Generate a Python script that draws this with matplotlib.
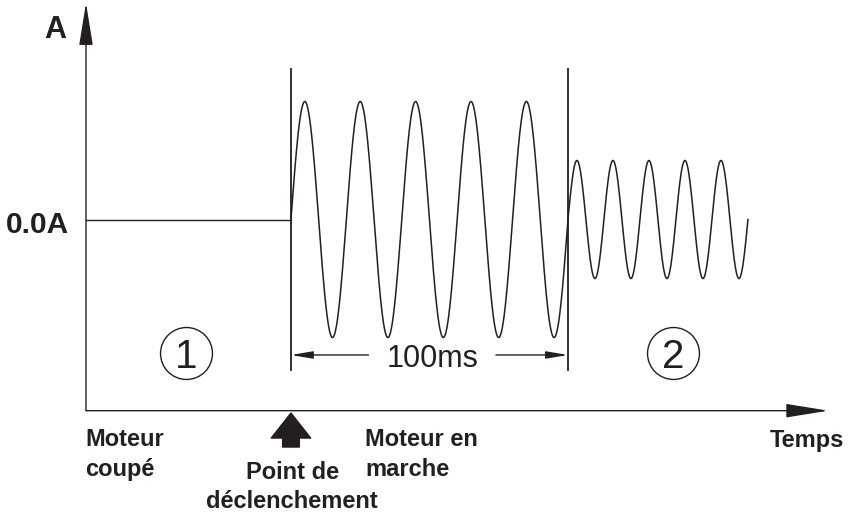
import numpy as np
import matplotlib
matplotlib.use("Agg")
import matplotlib.pyplot as plt

plt.rcParams['font.family'] = ['Liberation Sans', 'DejaVu Sans']

# zeitachse in ms, 0 = Auslösepunkt
t_achse_start = -74      # Ursprung der Achsen
t_achse_ende = 194       # Pfeilspitze Zeitachse
segment_grenzen = [-74, 0, 100, 165]   # aus / Anlauf / Betrieb
segment_amplitude = [0.0, 1.0, 0.5]    # relative Amplitude
segment_periode = [None, 20, 13]       # Periode in ms
a_achse_unten = -1.62
a_achse_oben = 1.835
marker_hoehe = 1.275     # senkrechte Linien bei 0 und 100 ms
dauer_text = '100ms'
null_label = '0.0A'
kreise = [(-38, '1'), (138, '2')]

# Beschriftung unten: (text, t, a_baseline, ausrichtung)
beschriftung = [
    ('Moteur', -74.4, -1.919, 'left'),
    ('coupé', -74.4, -2.174, 'left'),
    ('Moteur en', 26.7, -1.919, 'left'),
    ('marche', 26.7, -2.174, 'left'),
    ('Point de', 0.4, -2.2, 'center'),
    ('déclenchement', 0.4, -2.445, 'center'),
    ('Temps', 199.6, -1.928, 'right'),
]

farbe = '#231f20'

fig = plt.figure(figsize=(8.51, 5.13), dpi=100)
ax = fig.add_axes([0, 0, 1, 1])
ax.set_xlim(-105.05, 202.2)
ax.set_ylim(-2.487, 1.860)
ax.axis('off')

# Kurve zusammenbauen
t_all, a_all = [], []
for i in range(3):
    t = np.linspace(segment_grenzen[i], segment_grenzen[i + 1], 600)
    if segment_periode[i] is None:
        a = np.zeros_like(t)
    else:
        a = segment_amplitude[i] * np.sin(2 * np.pi * (t - segment_grenzen[i]) / segment_periode[i])
    t_all.append(t)
    a_all.append(a)
ax.plot(t_all[0], a_all[0], color=farbe, lw=1.0)
ax.plot(np.concatenate(t_all[1:]), np.concatenate(a_all[1:]), color=farbe, lw=1.1)

# senkrechte Linien
for tv in [segment_grenzen[1], segment_grenzen[2]]:
    ax.plot([tv, tv], [-marker_hoehe, marker_hoehe], color=farbe, lw=1.3)

# Achsen mit Pfeilen
ax.annotate('', xy=(t_achse_start, a_achse_oben), xytext=(t_achse_start, a_achse_unten),
            arrowprops=dict(arrowstyle='-|>,head_length=2.66,head_width=0.43', mutation_scale=10,
                            color=farbe, lw=1.0, shrinkA=0, shrinkB=0))
ax.annotate('', xy=(t_achse_ende, a_achse_unten), xytext=(t_achse_start, a_achse_unten),
            arrowprops=dict(arrowstyle='-|>,head_length=2.66,head_width=0.43', mutation_scale=10,
                            color=farbe, lw=1.0, shrinkA=0, shrinkB=0))

# 100ms Bemassung
a_mass = -1.148
mitte = (segment_grenzen[1] + segment_grenzen[2]) / 2 + 1
luecke = 23
for von, nach in [(mitte - luecke, segment_grenzen[1]), (mitte + luecke, segment_grenzen[2])]:
    ax.annotate('', xy=(nach, a_mass), xytext=(von, a_mass),
                arrowprops=dict(arrowstyle='-|>,head_length=1.3,head_width=0.22', mutation_scale=10,
                                color=farbe, lw=1.0, shrinkA=0, shrinkB=0))
ax.text(mitte, -1.25, dauer_text, fontsize=22, ha='center', va='baseline', color=farbe)

# Kreise mit Nummern
for tk, nr in kreise:
    ax.plot(tk, -1.135, 'o', ms=37.4, mfc='none', mec=farbe, mew=1.0)
    ax.text(tk, -1.258, nr, fontsize=29, ha='center', va='baseline', color=farbe)

# dicker Pfeil am Auslösepunkt
ax.annotate('', xy=(0, -1.64), xytext=(0, -1.928),
            arrowprops=dict(arrowstyle='simple,head_length=0.9,head_width=1.42,tail_width=0.6',
                            mutation_scale=20, color=farbe, shrinkA=0, shrinkB=0))

# Beschriftungen
ax.text(-85, 1.538, 'A', fontsize=22, fontweight='bold', ha='center', va='baseline', color=farbe)
ax.text(-80.1, -0.114, null_label, fontsize=21.5, fontweight='bold', ha='right', va='baseline', color=farbe)
for txt, tx, ay, ha in beschriftung:
    ax.text(tx, ay, txt, fontsize=17, fontweight='bold', ha=ha, va='baseline', color=farbe)

fig.savefig('out.png', dpi=100)
